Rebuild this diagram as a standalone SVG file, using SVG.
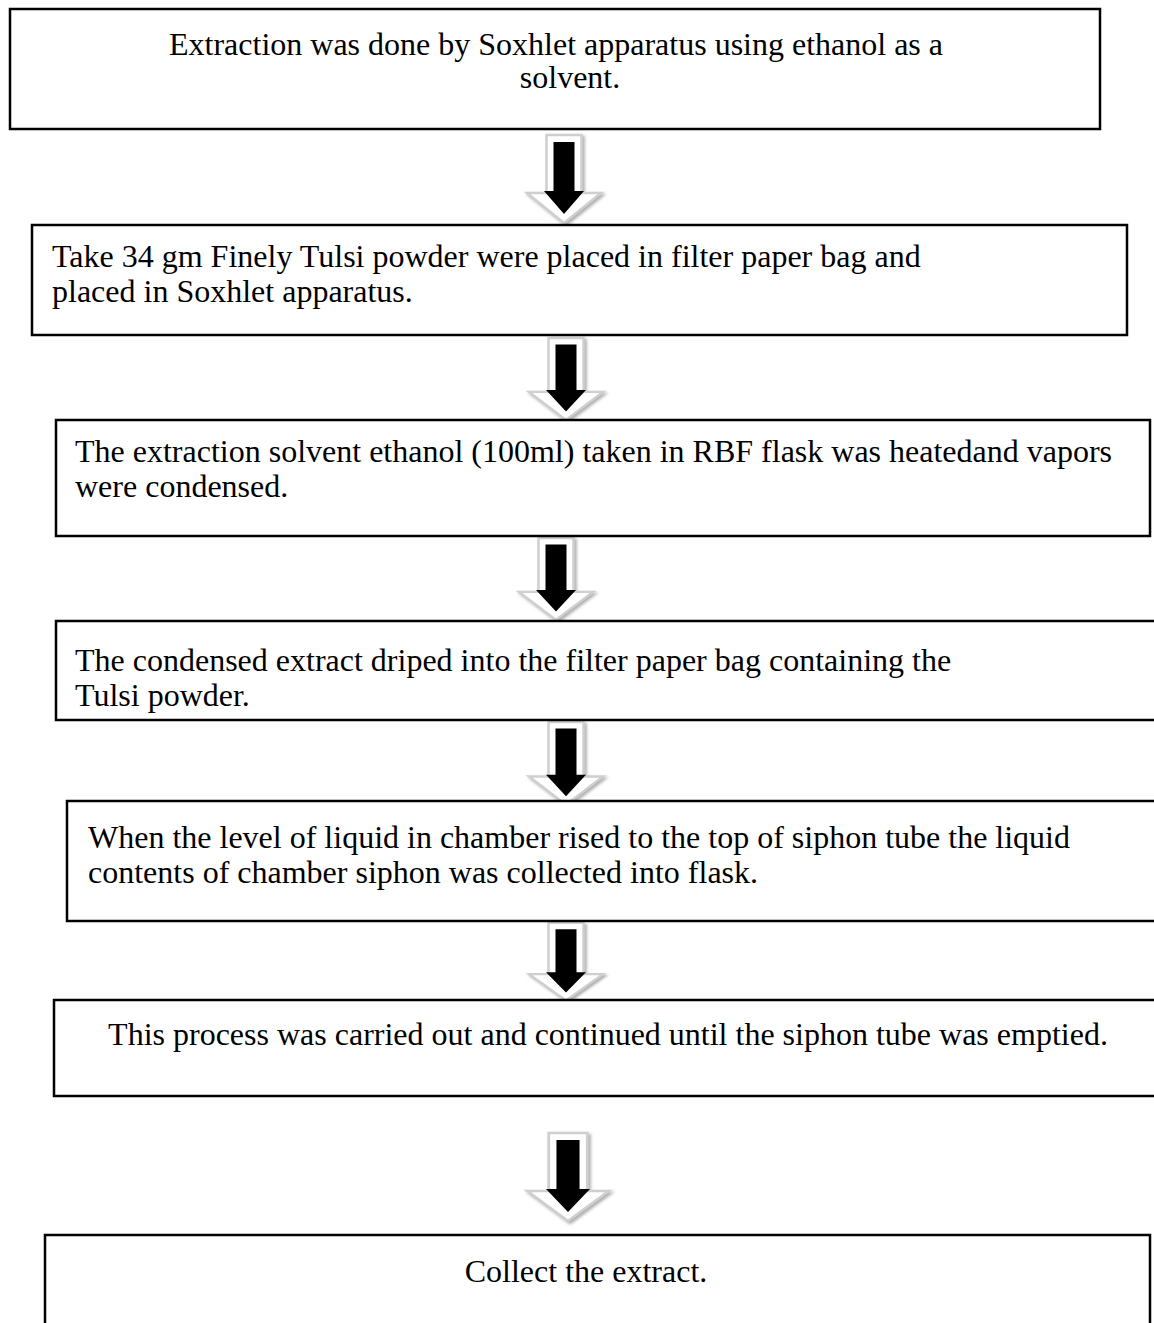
<svg xmlns="http://www.w3.org/2000/svg" xmlns:xlink="http://www.w3.org/1999/xlink" width="1154" height="1323" viewBox="0 0 1154 1323">
<style>
.box{fill:#ffffff;stroke:#000000;stroke-width:2.5}
.t{font-family:"Liberation Serif","Times New Roman",serif;font-size:32px;fill:#000000}
.c{text-anchor:middle}
</style>
<defs>
<filter id="sh" x="-30%" y="-30%" width="160%" height="160%">
<feDropShadow dx="2" dy="2" stdDeviation="1.5" flood-color="#9a9a9a" flood-opacity="0.8"/>
</filter>
<g id="arrow">
<polygon points="-17.5,0 17.5,0 17.5,58 37,58 0,88 -37,58 -17.5,58" fill="#ffffff" stroke="#cfcfcf" stroke-width="2.5" filter="url(#sh)"/>
<polygon points="-10.5,7 10.5,7 10.5,56 20,56 0,79 -20,56 -10.5,56" fill="#000000"/>
</g>
</defs>
<rect width="1154" height="1323" fill="#ffffff"/>
<g id="connectors">
<use xlink:href="#arrow" transform="translate(564,135)"/>
<use xlink:href="#arrow" transform="translate(566,338) scale(1,0.93)"/>
<use xlink:href="#arrow" transform="translate(556,538) scale(1,0.93)"/>
<use xlink:href="#arrow" transform="translate(566,722) scale(1,0.94)"/>
<use xlink:href="#arrow" transform="translate(566,923) scale(1,0.88)"/>
<use xlink:href="#arrow" transform="translate(568,1133) scale(1.1,1.0)"/>
</g>
<g id="n1">
<rect class="box" x="10" y="9" width="1090" height="120"/>
<text class="t c" x="556" y="55">Extraction was done by Soxhlet apparatus using ethanol as a</text>
<text class="t c" x="570" y="88">solvent.</text>
</g>
<g id="n2">
<rect class="box" x="32" y="225" width="1095" height="110"/>
<text class="t" x="52" y="267">Take 34 gm Finely Tulsi powder were placed in filter paper bag and</text>
<text class="t" x="52" y="302">placed in Soxhlet apparatus.</text>
</g>
<g id="n3">
<rect class="box" x="56" y="420" width="1094" height="116"/>
<text class="t" x="75" y="462">The extraction solvent ethanol (100ml) taken in RBF flask was heatedand vapors</text>
<text class="t" x="75" y="497">were condensed.</text>
</g>
<g id="n4">
<rect class="box" x="56" y="621" width="1110" height="99"/>
<text class="t" x="75" y="671">The condensed extract driped into the filter paper bag containing the</text>
<text class="t" x="75" y="706">Tulsi powder.</text>
</g>
<g id="n5">
<rect class="box" x="67" y="801" width="1100" height="120"/>
<text class="t" x="88" y="848">When the level of liquid in chamber rised to the top of siphon tube the liquid</text>
<text class="t" x="88" y="883">contents of chamber siphon was collected into flask.</text>
</g>
<g id="n6">
<rect class="box" x="54" y="1000" width="1110" height="96"/>
<text class="t c" x="608" y="1045">This process was carried out and continued until the siphon tube was emptied.</text>
</g>
<g id="n7">
<rect class="box" x="45" y="1235" width="1105" height="100"/>
<text class="t c" x="586" y="1282">Collect the extract.</text>
</g>
</svg>
